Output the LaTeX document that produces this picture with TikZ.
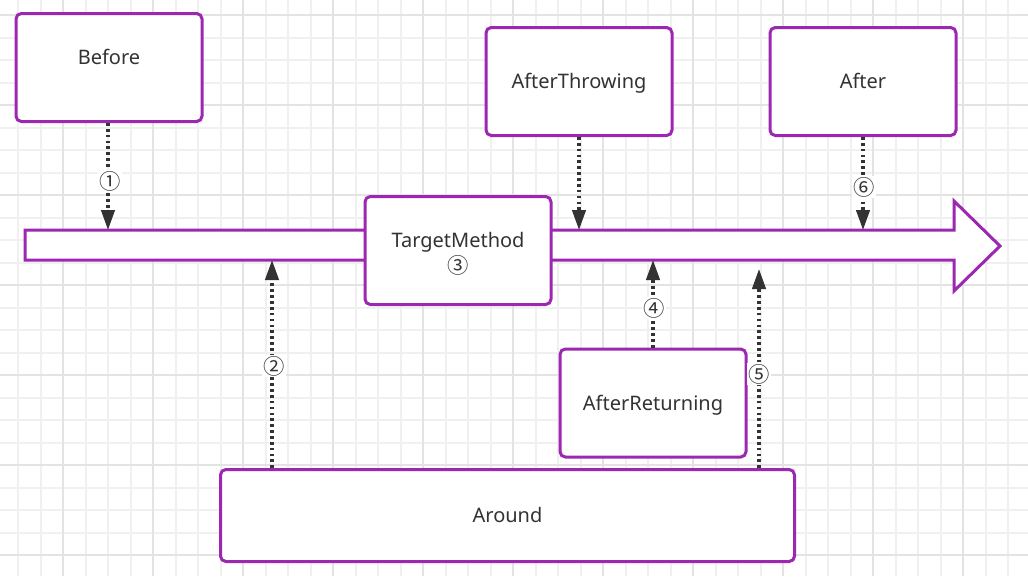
\documentclass[tikz,border=0pt]{standalone}
\usepackage{fontspec}
\setmainfont{Noto Sans}
\newfontfamily\cjk{Noto Sans CJK SC}
\usetikzlibrary{arrows.meta}
\definecolor{frame}{HTML}{9C27B0}
\definecolor{ink}{HTML}{333333}
\definecolor{gridlt}{HTML}{F0F0F0}
\definecolor{griddk}{HTML}{E3E3E3}
\tikzset{
  box/.style={draw=frame, line width=2.25pt, rounded corners=4pt, fill=white,
    text=ink, inner sep=0pt, font=\fontsize{15}{19.5}\selectfont,
    minimum width=139.5pt, minimum height=81pt},
  oneline/.style={text height=14pt, text depth=3.2pt},
  boxtext/.style={text=ink, font=\fontsize{15}{19.5}\selectfont, align=center},
  conn/.style={draw=ink, line width=2.4pt, dash pattern=on 2pt off 2.4pt,
    -{Triangle[width=10pt, length=15pt]}},
  lbl/.style={fill=white, text=ink, inner sep=1pt, font=\cjk\fontsize{16}{18}\selectfont},
}
\begin{document}
\begin{tikzpicture}[x=0.75pt, y=-0.75pt]
\useasboundingbox (0,0) rectangle (1028,576);
\fill[white] (0,0) rectangle (1028,576);
% grid
\foreach \x in {18,40.5,...,1010} \draw[gridlt, line width=1.5pt] (\x,0) -- (\x,576);
\foreach \y in {15,37.5,...,560} \draw[gridlt, line width=1.5pt] (0,\y) -- (1028,\y);
\foreach \x in {63,153,...,970} \draw[griddk, line width=1.5pt] (\x,0) -- (\x,576);
\foreach \y in {15,105,...,560} \draw[griddk, line width=1.5pt] (0,\y) -- (1028,\y);
% main flow arrow
\draw[frame, line width=2.25pt, fill=white, line join=miter]
  (25,230) -- (954,230) -- (954,201) -- (1000,246) -- (954,291) -- (954,260) -- (25,260) -- cycle;
\coordinate (b1) at (108,230);
\coordinate (bT) at (579,230);
\coordinate (b6) at (863,230);
\coordinate (b2) at (272,260);
\coordinate (b4) at (653,260);
\coordinate (b5) at (759,269);
% boxes
\node[box, label={[boxtext, yshift=8.25pt]center:Before}] (before) at (109,67.5) {};
\node[box, oneline] (throw) at (579,81.5) {AfterThrowing};
\node[box, oneline] (after) at (863,81.5) {After};
\node[box, label={[boxtext, yshift=-2.6pt]center:TargetMethod\\{\cjk\fontsize{16}{18}\selectfont ③}}] (target) at (458,250.5) {};
\node[box, oneline] (ret) at (653,403) {AfterReturning};
\node[box, oneline, minimum width=430.5pt, minimum height=69pt] (around) at (507.5,515.5) {Around};
% connectors
\draw[conn] (before.south -| b1) -- (b1);
\draw[conn] (throw.south -| bT) -- (bT);
\draw[conn] (after.south -| b6) -- (b6);
\draw[conn] (around.north -| b2) -- (b2);
\draw[conn] (ret.north -| b4) -- (b4);
\draw[conn] (around.north -| b5) -- (b5);
% labels
\node[lbl] (l1) at (110,181) {①};
\node[lbl] (l2) at (274,366) {②};
\node[lbl] (l4) at (654,308) {④};
\node[lbl] (l5) at (759,374) {⑤};
\node[lbl] (l6) at (864,187) {⑥};
\end{tikzpicture}
\end{document}
